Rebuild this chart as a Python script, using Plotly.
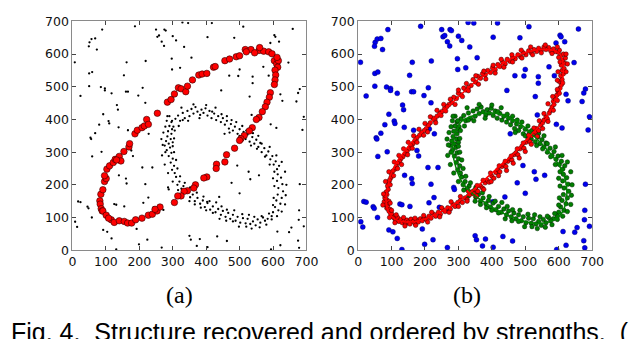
import plotly.graph_objects as go

# ---------------- data ----------------
tick_vals = [0, 100, 200, 300, 400, 500, 600, 700]
tick_text = ["0", "100", "200", "300", "400", "500", "600", "700"]

# background clutter (blue in (b), black in (a))
blue_x = [7, 89, 187, 250, 275, 279, 329, 346, 417, 511, 659, 604, 607, 618, 592, 484, 404,
          51, 57, 68, 73, 49, 254, 259, 267, 274, 300, 310, 334, 297, 356, 298, 322, 219,
          162, 154, 50, 59, 50, 85, 97, 97, 117, 160, 166, 24, 197, 210, 218, 133, 136, 92,
          108, 110, 80, 138, 166, 213, 228, 68, 54, 56, 87, 59, 176, 181, 209, 239, 139, 160,
          162, 218, 227, 212, 17, 24, 45, 48, 58, 125, 131, 155, 272, 243, 192, 92, 104, 117,
          199, 224, 267, 131, 350, 354, 381, 372, 433, 462, 404, 8, 14, 500, 530, 539, 539,
          445, 469, 496, 571, 587, 646, 680, 675, 622, 628, 670, 692, 688, 593, 610, 536, 455,
          493, 527, 558, 532, 476, 500, 680, 439, 403, 678, 677, 655, 648, 613, 622, 594, 675,
          678, 692, 286, 288]
blue_y = [575, 675, 685, 675, 675, 672, 697, 695, 695, 684, 677, 658, 653, 638, 634, 650, 652,
          636, 646, 648, 614, 624, 653, 657, 638, 625, 655, 642, 622, 586, 589, 553, 558, 579,
          575, 535, 541, 545, 502, 499, 495, 489, 480, 485, 485, 472, 473, 497, 451, 444, 430, 416,
          395, 388, 384, 376, 367, 371, 356, 358, 344, 340, 301, 287, 305, 288, 253, 253, 229, 219,
          204, 202, 161, 145, 149, 147, 133, 128, 100, 141, 139, 134, 123, 131, 65, 62, 56, 36,
          18, 32, 8, 2, 44, 32, 34, 13, 42, 28, 9, 87, 71, 553, 470, 531, 511,
          489, 534, 533, 561, 534, 574, 493, 481, 477, 457, 455, 408, 368, 385, 374, 414, 356,
          259, 240, 229, 217, 206, 174, 202, 163, 148, 122, 93, 69, 55, 57, 15, 2, 29,
          7, 73, 192, 186]

# second structure (green)
green_x = [296, 308, 302, 316, 322, 330, 336, 344, 350, 356, 362, 368, 374, 382, 386, 392, 398,
           404, 410, 416, 424, 430, 436, 444, 450, 456, 462, 468, 474, 480, 486, 494, 500, 506,
           512, 518, 524, 530, 538, 544, 550, 556, 562, 566, 574, 580, 586, 592, 598, 602, 608,
           612, 618, 614, 624, 612, 628, 616, 630, 614, 626, 610, 622, 606, 616, 600, 596, 588,
           584, 576, 570, 562, 554, 548, 540, 532, 524, 518, 510, 502, 494, 488, 480, 472, 466,
           458, 450, 444, 436, 428, 420, 412, 404, 396, 390, 382, 374, 366, 360, 352, 346, 338,
           332, 326, 320, 314, 310, 306, 298, 304, 294, 300, 288, 296, 282, 292, 276, 288, 280,
           294, 284, 296, 286, 298, 290, 282, 270, 278, 300,
           318, 290, 330, 326, 346, 362, 380, 400, 418, 428, 446, 462, 476, 490, 470, 508, 520,
           500, 540, 534, 556, 566, 552, 590, 576, 610, 590, 626, 604, 636, 600, 640, 604, 638,
           602, 636, 600, 626, 596, 612, 580, 560, 566, 536, 544, 520, 528, 498, 508, 480, 484,
           460, 462, 440, 446, 420, 430, 400, 410, 384, 392, 366, 372, 350, 352, 330, 336, 316,
           322, 300, 314, 286, 310, 276, 304, 268, 300, 266, 304, 272, 306, 278, 298, 284]
green_y = [392, 402, 378, 412, 396, 420, 404, 426, 410, 432, 418, 438, 424, 414, 430, 420, 434,
           412, 426, 404, 418, 398, 410, 392, 404, 384, 396, 372, 386, 366, 378, 356, 370, 348,
           362, 340, 354, 332, 346, 326, 338, 316, 328, 300, 312, 290, 302, 278, 288, 262, 272,
           248, 258, 232, 222, 212, 202, 190, 180, 170, 160, 152, 142, 132, 122, 116, 104, 112,
           96, 90, 100, 84, 94, 76, 88, 80, 96, 82, 98, 84, 102, 90, 108, 96, 114,
           102, 120, 108, 126, 116, 134, 124, 144, 132, 152, 142, 160, 150, 170, 162, 182, 176,
           196, 188, 210, 200, 224, 236, 246, 258, 268, 280, 288, 298, 306, 314, 320, 326, 334,
           340, 348, 356, 364, 370, 380, 396, 322, 300, 330,
           380, 410, 398, 436, 396, 446, 404, 444, 424, 436, 416, 410, 398, 392, 360, 380, 366,
           350, 358, 320, 350, 326, 310, 316, 286, 290, 262, 270, 240, 240, 220, 200, 196, 168,
           160, 140, 138, 118, 94, 104, 78, 70, 104, 66, 102, 72, 108, 72, 110, 88, 122,
           90, 124, 96, 134, 114, 146, 122, 150, 130, 164, 140, 176, 150, 192, 166, 206, 184,
           226, 210, 250, 236, 276, 262, 300, 290, 318, 340, 342, 360, 366, 378, 396, 410]

# recovered strongest structure in (a)
red_a_x = [82, 83, 86, 89, 91, 101, 116, 125, 140, 155, 165, 177, 189, 208, 227, 239, 253, 262,
           85, 91, 96, 101, 103, 111, 122, 128, 140, 145, 154, 169, 171, 187, 194, 208, 215, 222,
           227, 254, 284, 295, 305, 317, 325, 339, 344, 359, 378, 388, 402, 422, 427, 456, 470,
           490, 500, 517, 534, 558, 572, 587, 597, 604, 611, 616, 614, 606, 608, 606, 604, 592,
           589, 582, 577, 568, 558, 550, 538, 529, 514, 504, 500, 485, 461, 456, 431, 430, 402,
           393, 368, 363, 344, 334, 325, 315, 305, 96, 108, 132, 247, 560, 545, 520, 612]
red_a_y = [151, 141, 127, 120, 120, 107, 93, 85, 90, 88, 83, 83, 93, 98, 107, 110, 120, 132,
           171, 185, 210, 219, 248, 258, 268, 278, 287, 273, 302, 316, 326, 356, 367, 375, 380, 400,
           385, 419, 453, 461, 478, 497, 494, 485, 502, 521, 536, 539, 541, 560, 562, 580, 585,
           592, 595, 614, 614, 611, 609, 607, 601, 580, 570, 580, 560, 551, 536, 521, 507, 482,
           468, 453, 439, 424, 406, 400, 375, 365, 351, 341, 336, 312, 292, 270, 263, 250, 224,
           221, 200, 190, 182, 180, 166, 166, 146, 228, 98, 276, 125, 620, 604, 607, 590]

# recovered structures in (b)
red_b_x = [78, 85, 82, 90, 86, 80, 92, 97, 88, 95, 102, 108, 100, 112, 118, 122, 128, 132, 138, 142,
           146, 150, 155, 158, 165, 170, 176, 180, 186, 192, 198, 204, 212, 218, 226, 232, 240, 246,
           254, 260, 268, 276, 284, 290, 298, 306, 312, 320, 326, 334, 340, 346, 352, 358, 366, 372,
           380, 386, 392, 400, 406, 412, 418, 424, 430, 436, 442, 448, 454, 460, 466, 472, 478, 484,
           490, 496, 502, 508, 514, 518, 524, 530, 534, 540, 546, 552, 556, 562, 566, 572, 576, 580,
           586, 584, 590, 594, 598, 602, 604, 608, 602, 610, 606, 614, 610, 616, 608, 618, 612, 620,
           606, 614, 598, 602, 590, 584, 576, 570, 562, 556, 548, 540, 534, 526, 518, 510, 502, 494,
           486, 478, 470, 462, 454, 446, 440, 432, 424, 418, 410, 402, 396, 388, 380, 372, 366, 358,
           352, 344, 338, 330, 322, 316, 308, 300, 294, 286, 280, 272, 266, 258, 250, 244, 236, 230,
           224, 216, 210, 204, 198, 190, 184, 176, 170, 164, 158, 152, 146, 140, 134, 128, 124, 118,
           114, 110, 104, 100, 98, 94, 92, 88, 90, 84, 86, 80,
           92, 76, 96, 82, 106, 92, 118, 108, 130, 122, 148, 136, 162, 150, 176, 166, 196, 182,
           208, 200, 232, 216, 248, 236, 262, 256, 290, 276, 312, 300, 330, 324, 360, 352, 382,
           376, 410, 404, 436, 428, 462, 460, 490, 488, 522, 516, 548, 560, 580, 596, 622, 600,
           626, 604, 622, 598, 612, 596, 596, 582, 596, 568, 584, 556, 568, 542, 552, 526, 536,
           510, 518, 494, 500, 476, 482, 458, 464, 440, 444, 422, 420, 396, 398, 374, 376, 356,
           354, 330, 326, 306, 300, 278, 272, 250, 244, 220, 208, 196, 172, 170, 140, 136, 110,
           114, 94, 100, 74, 96]
red_b_y = [148, 155, 138, 142, 128, 160, 120, 112, 132, 125, 104, 98, 112, 92, 100, 88, 94, 84, 90, 80,
           92, 86, 80, 95, 88, 82, 92, 86, 96, 90, 98, 94, 104, 98, 110, 104, 116, 110,
           124, 118, 130, 126, 140, 134, 146, 152, 146, 160, 155, 170, 178, 172, 186, 180, 196, 190,
           206, 214, 208, 226, 220, 238, 246, 240, 256, 262, 256, 272, 280, 276, 292, 298, 292, 310,
           318, 312, 330, 338, 332, 350, 356, 362, 372, 366, 382, 390, 398, 408, 402, 420, 428, 438,
           446, 456, 462, 474, 486, 480, 496, 506, 516, 522, 534, 540, 550, 556, 566, 572, 582, 588,
           596, 600, 606, 612, 608, 616, 610, 620, 614, 622, 612, 618, 608, 614, 604, 610, 598, 604,
           592, 598, 586, 590, 578, 584, 570, 576, 562, 568, 552, 558, 544, 550, 536, 540, 526, 532,
           514, 522, 504, 498, 490, 496, 476, 480, 464, 468, 452, 446, 440, 432, 424, 418, 410, 398,
           404, 390, 382, 372, 366, 360, 352, 344, 336, 326, 320, 310, 302, 294, 286, 280, 272, 266,
           256, 248, 242, 232, 222, 214, 204, 196, 186, 178, 170, 168,
           150, 172, 200, 210, 228, 240, 250, 270, 262, 290, 292, 310, 312, 330, 330, 350, 352, 370,
           362, 388, 390, 408, 412, 428, 426, 446, 446, 462, 470, 490, 488, 510, 508, 534, 524,
           548, 542, 566, 560, 584, 576, 598, 588, 612, 598, 622, 604, 628, 602, 622, 600, 590,
           570, 576, 546, 546, 512, 520, 492, 470, 458, 448, 428, 418, 394, 396, 372, 374, 348,
           352, 324, 328, 302, 310, 282, 288, 266, 272, 244, 258, 228, 236, 210, 214, 186, 198,
           166, 180, 150, 164, 134, 148, 116, 130, 102, 116, 86, 106, 76, 98, 74, 100, 84,
           108, 100, 122, 138, 144]

# fitted curves in (b)
red_fit_x = [84, 90, 98, 115, 137, 160, 186, 225, 283, 356, 396, 444, 493, 530, 556, 590, 605,
             614, 612, 605, 588, 561, 512, 473, 415, 342, 302, 244, 186, 137, 110, 98, 86, 84]
red_fit_y = [164, 200, 232, 268, 300, 330, 355, 399, 452, 520, 545, 578, 603, 612, 615, 610, 598,
             559, 525, 491, 455, 402, 347, 303, 250, 182, 150, 116, 91, 87, 95, 106, 130, 164]
green_fit_x = [300, 285, 283, 292, 310, 340, 380, 430, 490, 545, 585, 612, 624, 620, 600, 570,
               530, 480, 430, 380, 340, 310, 300]
green_fit_y = [380, 340, 300, 255, 210, 175, 145, 115, 90, 82, 92, 118, 165, 215, 262, 302,
               345, 390, 415, 420, 410, 395, 380]

# ---------------- figure ----------------
fig = go.Figure()

# (a)
fig.add_trace(go.Scatter(x=blue_x + green_x, y=blue_y + green_y, mode="markers",
                         marker=dict(color="black", size=2.3), xaxis="x", yaxis="y",
                         showlegend=False, hoverinfo="skip"))
fig.add_trace(go.Scatter(x=red_a_x, y=red_a_y, mode="markers",
                         marker=dict(color="#ff0000", size=6.5, line=dict(color="#300000", width=0.6)),
                         xaxis="x", yaxis="y", showlegend=False))

# (b)
fig.add_trace(go.Scatter(x=blue_x, y=blue_y, mode="markers",
                         marker=dict(color="#0000ee", size=5, line=dict(color="#000060", width=0.4)),
                         xaxis="x2", yaxis="y2", showlegend=False))
fig.add_trace(go.Scatter(x=green_x, y=green_y, mode="markers",
                         marker=dict(color="#008000", size=4.5, line=dict(color="#002000", width=0.5)),
                         xaxis="x2", yaxis="y2", showlegend=False))
fig.add_trace(go.Scatter(x=red_b_x, y=red_b_y, mode="markers",
                         marker=dict(color="#ff0000", size=4.5, line=dict(color="#300000", width=0.5)),
                         xaxis="x2", yaxis="y2", showlegend=False))
fig.add_trace(go.Scatter(x=green_fit_x, y=green_fit_y, mode="lines",
                         line=dict(color="#008000", width=1.5, shape="spline", smoothing=1.0),
                         xaxis="x2", yaxis="y2", showlegend=False))
fig.add_trace(go.Scatter(x=red_fit_x, y=red_fit_y, mode="lines",
                         line=dict(color="#ff0000", width=1.5, shape="spline", smoothing=1.0),
                         xaxis="x2", yaxis="y2", showlegend=False))

W, H = 640, 339
ydom = [(H - 245) / H, (H - 5.7) / H]
axis_common = dict(range=[0, 700], tickvals=tick_vals, ticktext=tick_text, showgrid=False,
                   zeroline=False, showline=True, linecolor="#8a8a8a", linewidth=1, mirror="allticks",
                   ticks="inside", ticklen=4, tickcolor="#444", tickwidth=1,
                   ticklabeloverflow="allow",
                   tickfont=dict(family="DejaVu Sans", size=12.5, color="#111"))

fig.update_layout(
    width=W, height=H, margin=dict(l=0, r=0, t=0, b=0),
    paper_bgcolor="white", plot_bgcolor="white",
    xaxis=dict(domain=[62 / W, 302 / W], anchor="y", **axis_common),
    yaxis=dict(domain=ydom, anchor="x", **axis_common),
    xaxis2=dict(domain=[355 / W, 595 / W], anchor="y2", **axis_common),
    yaxis2=dict(domain=ydom, anchor="x2", **axis_common),
    annotations=[
        dict(text="(a)", x=172 / W, y=(H - 292) / H, xref="paper", yref="paper",
             showarrow=False, font=dict(family="Liberation Serif", size=24, color="black"),
             xanchor="center", yanchor="middle"),
        dict(text="(b)", x=467 / W, y=(H - 292) / H, xref="paper", yref="paper",
             showarrow=False, font=dict(family="Liberation Serif", size=24, color="black"),
             xanchor="center", yanchor="middle"),
        dict(text="Fig. 4.  Structure recovered and ordered by strengths.  (", x=-3 / W,
             y=(H - 314) / H, xref="paper", yref="paper", showarrow=False,
             font=dict(family="Liberation Sans", size=25, color="black"),
             xanchor="left", yanchor="top"),
    ],
)

fig.write_html("out.html")
